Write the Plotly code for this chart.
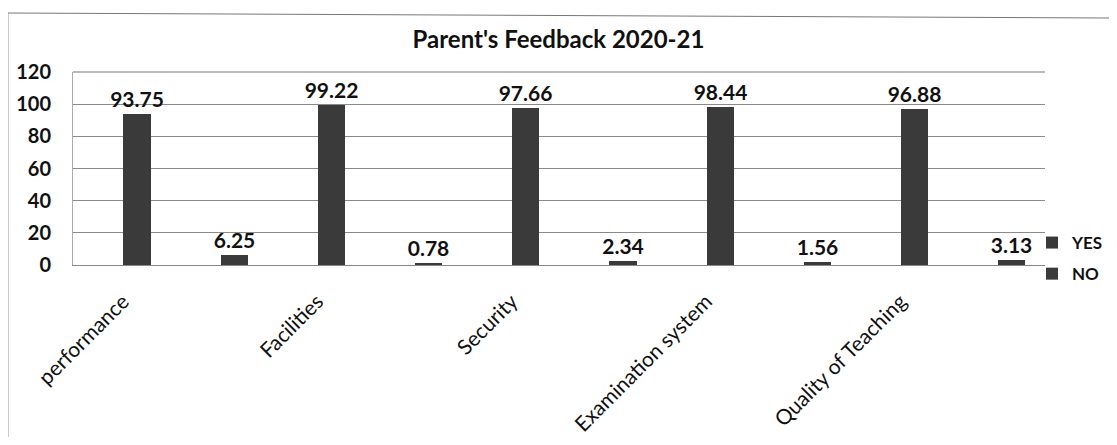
import plotly.graph_objects as go

categories = ["performance", "Facilities", "Security", "Examination system", "Quality of Teaching"]
yes_values = [93.75, 99.22, 97.66, 98.44, 96.88]
no_values = [6.25, 0.78, 2.34, 1.56, 3.13]
y_ticks = [0, 20, 40, 60, 80, 100, 120]

FONT = "Lato"
OFF = 8  # browser body margin (figure starts at page pixel 8,8)
W, H = 1117 - 2 * OFF, 445 - 2 * OFF
# plot area in page pixels: x 73..1045, y 72..265
L, T = 73 - OFF, 72 - OFF
R = (W + OFF) - 1045
B = (H + OFF) - 265
pw, ph = W - L - R, H - T - B

def px2x(px):
    return (px - OFF - L) / pw

def py2y(py):
    return (H - B - (py - OFF)) / ph

label_font = dict(family=FONT, size=21, color="#111111", weight="bold")

fig = go.Figure()
fig.add_trace(go.Bar(
    name="YES", x=categories, y=yes_values, legendgroup="yes",
    width=0.14, offset=0.002,
    marker=dict(color="#3a3a3a", line=dict(width=0)),
    text=[f"{v:.2f}" for v in yes_values], textposition="outside",
    textfont=label_font, constraintext="none",
    cliponaxis=False,
))
fig.add_trace(go.Bar(
    name="NO", x=categories, y=no_values, legendgroup="no",
    width=0.14, offset=0.502,
    marker=dict(color="#3a3a3a", line=dict(width=0)),
    text=[f"{v:.2f}" for v in no_values], textposition="outside",
    textfont=label_font, constraintext="none",
    cliponaxis=False,
))

fig.update_layout(
    width=W, height=H,
    margin=dict(l=L, r=R, t=T, b=B, autoexpand=False),
    paper_bgcolor="white", plot_bgcolor="white",
    title=dict(text="<b>Parent's Feedback 2020-21</b>", x=0.5, xanchor="center",
               y=1 - (40 - OFF) / H, yanchor="middle",
               font=dict(family=FONT, size=24, color="#111111")),
    showlegend=True,
    legend=dict(xref="container", yref="container",
                x=1.0, y=1 - (225 - OFF) / H, xanchor="right", yanchor="top",
                font=dict(family=FONT, size=17, color="#111111", weight="bold"),
                bgcolor="rgba(0,0,0,0)", itemwidth=30, tracegroupgap=6),
    bargap=0,
    xaxis=dict(type="category", range=[-0.257, 4.743], tickangle=-45,
               tickfont=dict(family=FONT, size=21, color="#111111"),
               showgrid=False, showline=True, linecolor="#888888", linewidth=1,
               ticks="", ticklabelstandoff=15),
    yaxis=dict(range=[0, 120], tickvals=y_ticks, ticktext=[str(v) for v in y_ticks],
               tickfont=dict(family=FONT, size=20, color="#111111", weight="bold"),
               showgrid=True, gridcolor="#8a8a8a", gridwidth=1,
               showline=True, linecolor="#aaaaaa", linewidth=1, zeroline=False,
               ticks="outside", ticklen=17, tickcolor="rgba(0,0,0,0)"),
    shapes=[
        dict(type="line", xref="paper", yref="paper",
             x0=px2x(8), x1=px2x(1109), y0=py2y(13), y1=py2y(18),
             line=dict(color="#777777", width=1)),
        dict(type="line", xref="paper", yref="paper",
             x0=px2x(8), x1=px2x(8), y0=py2y(13), y1=py2y(437),
             line=dict(color="#999999", width=1)),
        dict(type="line", xref="paper", yref="paper",
             x0=0, x1=1, y0=1, y1=1,
             line=dict(color="#777777", width=1)),
    ],
)

fig.write_html("out.html")
